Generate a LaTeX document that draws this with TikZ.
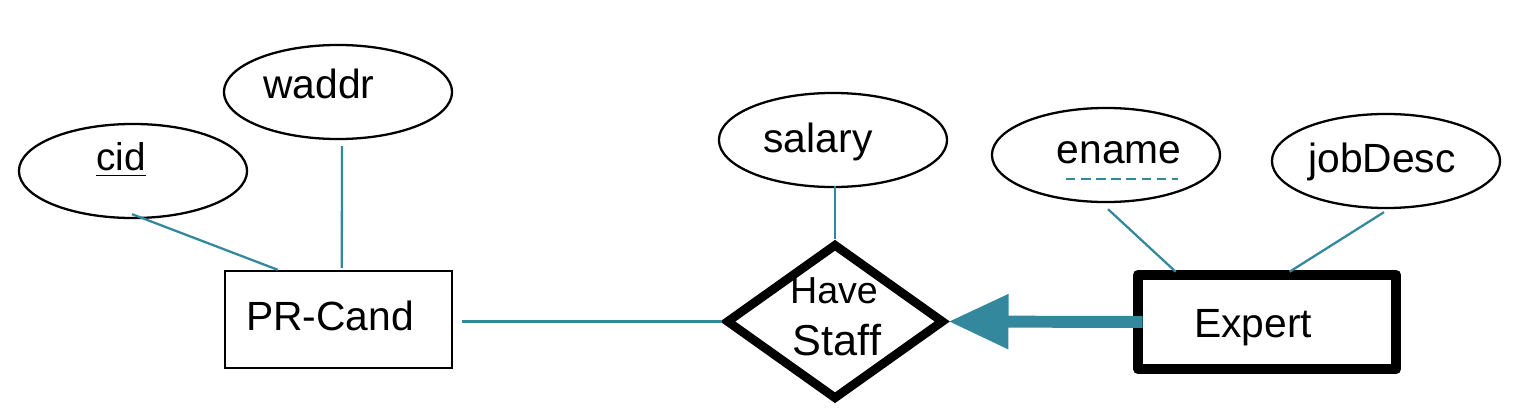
\documentclass[tikz,border=0pt]{standalone}
\usepackage{fontspec}
\setmainfont{Liberation Sans}
\usetikzlibrary{shapes.geometric,arrows.meta,calc}
\definecolor{erteal}{RGB}{52,136,158}
\begin{document}
\begin{tikzpicture}[x=0.01cm,y=-0.01cm,
  attr/.style={draw=black,line width=0.65pt,ellipse,inner sep=0pt,minimum width=2.28cm,minimum height=0.94cm},
  txt/.style={anchor=base,inner sep=0pt,font=\fontsize{11.6}{13}\selectfont},
  ent/.style={draw=black,line width=0.65pt,rectangle,inner sep=0pt,minimum width=2.27cm,minimum height=0.97cm},
  wkent/.style={draw=black,line width=3pt,line join=round,rectangle,inner sep=0pt,minimum width=2.58cm,minimum height=0.94cm},
  rel/.style={draw=black,line width=2.5pt,line join=miter,diamond,inner sep=0pt,minimum width=2.18cm,minimum height=1.56cm},
  conn/.style={draw=erteal,line width=0.65pt}]
\useasboundingbox (0,0) rectangle (1518,418);
% attributes
\node[attr] (cid) at (133,171) {};
\node[attr] (waddr) at (338,92) {};
\node[attr] (salary) at (833,140) {};
\node[attr] (ename) at (1106,155) {};
\node[attr] (jobdesc) at (1386,161) {};
\node[txt,font=\fontsize{11}{13}\selectfont] (cidt) at (121,170) {\underline{cid}};
\node[txt] (waddrt) at (319,98) {waddr};
\node[txt] (salaryt) at (818,152) {salary};
\node[txt] (enamet) at (1119,163) {ename};
\node[txt] (jobdesct) at (1382,172) {jobDesc};
% entities and relationship
\node[ent] (prcand) at (338.5,319.5) {};
\node[txt] (prcandt) at (330,330) {PR-Cand};
\node[wkent] (expert) at (1267,322) {};
\node[txt] (expertt) at (1253,337) {Expert};
\node[rel] (hs) at (835,321.5) {};
\node[txt,font=\fontsize{10.7}{12}\selectfont] (have) at (834,303) {Have};
\node[txt,font=\fontsize{12.3}{14}\selectfont] (staff) at (837,355) {Staff};
% dashed partial key underline
\draw[erteal,line width=0.75pt,dash pattern=on 2.7pt off 1.6pt] ($(enamet.base west)+(10,16)$) -- ($(enamet.base east)+(-4,16)$);
% connectors
\draw[conn] ($(cid.south)+(-1,-5)$) -- ($(prcand.north west)+(54,0)$);
\draw[conn] ($(waddr.south)+(4,6)$) -- ($(prcand.north west)+(118,-2)$);
\draw[conn] ($(salary.south)+(2,-2)$) -- (hs.north);
\draw[conn] ($(prcand.east)+(9,2)$) -- (hs.west);
\draw[conn] ($(ename.south)+(2,6)$) -- ($(expert.north west)+(43,2)$);
\draw[conn] ($(jobdesc.south)+(-2,3)$) -- ($(expert.north west)+(157,2)$);
\draw[erteal,line width=3.4pt,-{Triangle[length=0.6cm,width=0.52cm]}] ($(expert.west)+(10,0)$) -- (hs.east);
\end{tikzpicture}
\end{document}
